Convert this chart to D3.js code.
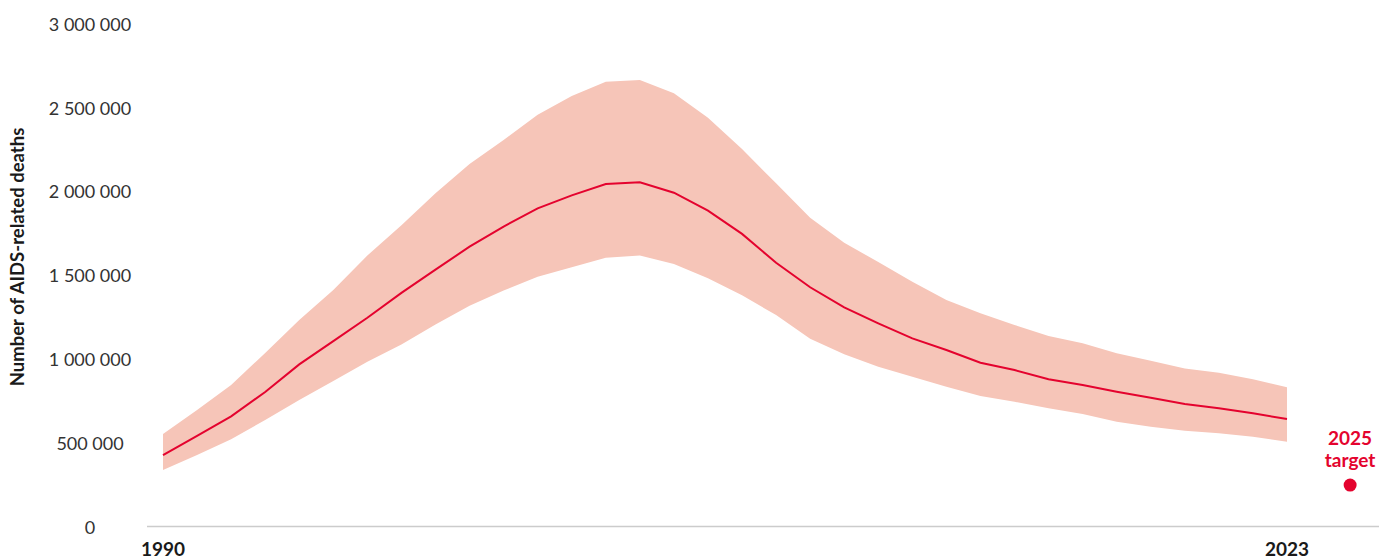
<!DOCTYPE html>
<html>
<head>
<meta charset="utf-8">
<script src="https://cdn.jsdelivr.net/npm/d3@7"></script>
<style>
  body { margin: 0; background: #fff; }
  svg text { font-family: Lato, "Open Sans", sans-serif; }
</style>
</head>
<body>
<script>
'use strict';

// AIDS-related deaths, 1990-2023 (estimate, lower and upper bound)
var years = d3.range(1990, 2024);
var deaths = [429000, 543000, 660000, 805000, 970000, 1109000, 1248000, 1396000, 1535000, 1672000,
              1792000, 1900000, 1978000, 2046000, 2056000, 1994000, 1887000, 1748000, 1576000, 1430000,
              1310000, 1215000, 1125000, 1056000, 980000, 936000, 881000, 847000, 807000, 771000,
              734000, 708000, 678000, 644000];
var lower = [340000, 429000, 523000, 638000, 757000, 871000, 985000, 1088000, 1208000, 1320000,
             1410000, 1492000, 1549000, 1606000, 1620000, 1569000, 1483000, 1382000, 1264000, 1123000,
             1030000, 956000, 896000, 837000, 781000, 747000, 708000, 674000, 628000, 598000,
             574000, 559000, 539000, 509000];
var upper = [555000, 698000, 847000, 1038000, 1235000, 1414000, 1620000, 1800000, 1990000, 2165000,
             2308000, 2459000, 2571000, 2656000, 2666000, 2587000, 2441000, 2254000, 2050000, 1845000,
             1696000, 1580000, 1463000, 1354000, 1275000, 1205000, 1139000, 1096000, 1036000, 992000,
             946000, 920000, 881000, 833000];
var yTicks = [0, 500000, 1000000, 1500000, 2000000, 2500000, 3000000];
var xLabels = [1990, 2023];
var targetYear = 2025;
var targetValue = 250000;

var width = 1379;
var height = 559;

var svg = d3.select('body')
    .append('svg')
    .attr('width', width)
    .attr('height', height);

var x = d3.scaleLinear().domain([1990, 2023]).range([163, 1287]);
var y = d3.scaleLinear().domain([0, 3000000]).range([527, 24]);

var rows = years.map(function(yr, i) {
    return { year: yr, v: deaths[i], lo: lower[i], hi: upper[i] };
});

// y axis labels, no line
var fmt = function(d) { return d3.format(',')(d).replace(/,/g, ' '); };
var yAxis = svg.append('g')
    .attr('transform', 'translate(90,0)')
    .call(d3.axisLeft(y).tickValues(yTicks).tickFormat(fmt).tickSize(0).tickPadding(0));
yAxis.select('.domain').remove();
yAxis.selectAll('text')
    .attr('text-anchor', 'middle')
    .attr('x', 0)
    .attr('dy', '0.35em')
    .style('font-family', 'Lato, sans-serif')
    .style('font-size', '18px')
    .attr('fill', '#333');

svg.append('text')
    .attr('transform', 'translate(24,' + 257 + ') rotate(-90)')
    .attr('text-anchor', 'middle')
    .style('font-size', '18.5px')
    .style('font-weight', 'bold')
    .attr('fill', '#1a1a1a')
    .text('Number of AIDS-related deaths');

// uncertainty band
svg.append('path')
    .datum(rows)
    .attr('fill', '#f6c5b8')
    .attr('d', d3.area()
        .x(function(d) { return x(d.year); })
        .y0(function(d) { return y(d.lo); })
        .y1(function(d) { return y(d.hi); }));

// estimate line
svg.append('path')
    .datum(rows)
    .attr('fill', 'none')
    .attr('stroke', '#e4032e')
    .attr('stroke-width', 2)
    .attr('d', d3.line()
        .x(function(d) { return x(d.year); })
        .y(function(d) { return y(d.v); }));

// x axis baseline
svg.append('line')
    .attr('x1', 147)
    .attr('x2', width)
    .attr('y1', y(0) - 0.5)
    .attr('y2', y(0) - 0.5)
    .attr('stroke', '#cccccc')
    .attr('stroke-width', 1.5);

svg.selectAll('.xlab')
    .data(xLabels)
    .enter()
    .append('text')
    .attr('class', 'xlab')
    .attr('x', function(d) { return x(d); })
    .attr('y', 556)
    .attr('text-anchor', 'middle')
    .style('font-size', '19px')
    .style('font-weight', 'bold')
    .attr('fill', '#1a1a1a')
    .text(function(d) { return d; });

// 2025 target
var tx = x(targetYear) - 5;
svg.append('circle')
    .attr('cx', tx)
    .attr('cy', y(targetValue))
    .attr('r', 6.5)
    .attr('fill', '#e4032e');

var tl = svg.append('text')
    .attr('text-anchor', 'middle')
    .style('font-size', '19px')
    .style('font-weight', 'bold')
    .attr('fill', '#e4032e');
tl.append('tspan').attr('x', tx).attr('y', 445).text('2025');
tl.append('tspan').attr('x', tx).attr('y', 467).text('target');
</script>
</body>
</html>
